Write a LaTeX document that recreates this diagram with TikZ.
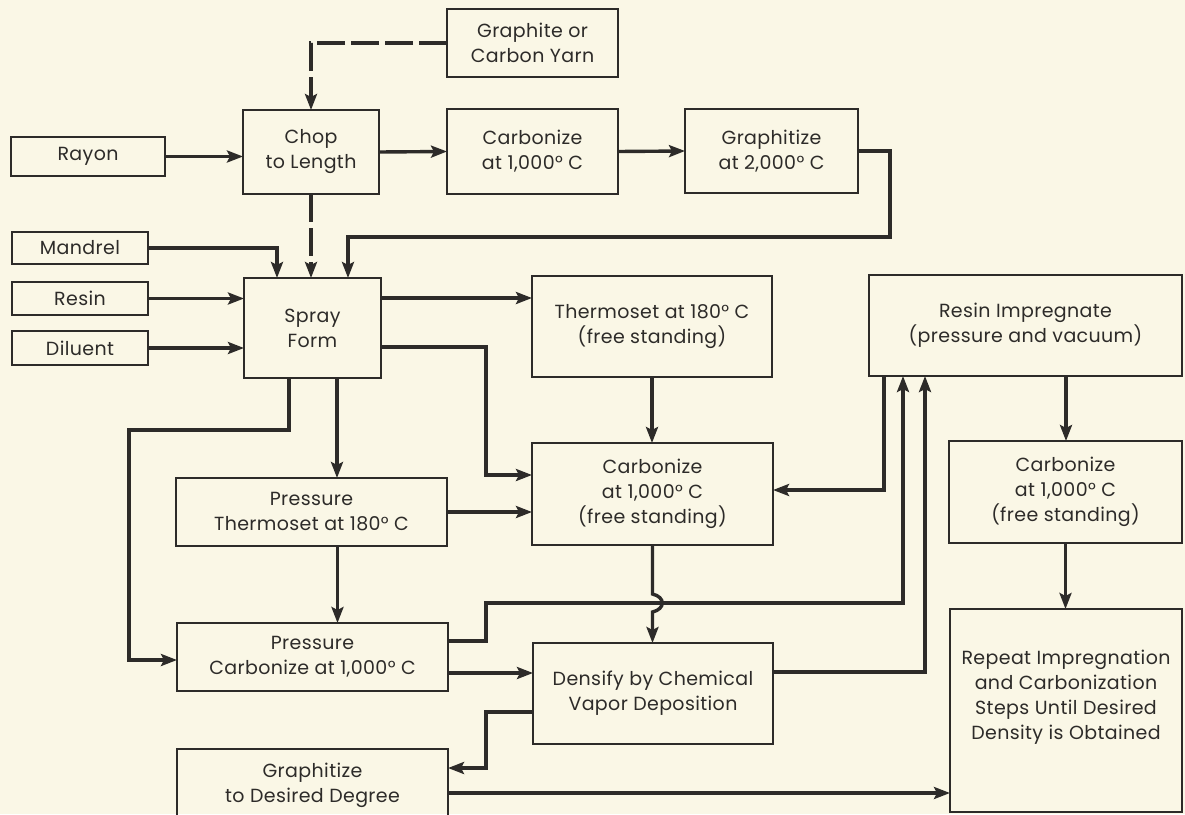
\documentclass[tikz,border=0pt]{standalone}
\usepackage{fontspec}
\setmainfont{Poppins}[LetterSpace=2]
\usetikzlibrary{arrows.meta}
\definecolor{paper}{RGB}{250,247,230}
\definecolor{ink}{RGB}{45,43,41}
\begin{document}
\begin{tikzpicture}[x=1pt,y=-1pt,
  box/.style={draw=ink, line width=1.3pt, inner sep=0pt, outer sep=0pt, align=center,
    text=ink, font=\fontsize{19}{25}\selectfont},
  conn/.style={draw=ink, line width=3.4pt, -{Stealth[length=16pt,width=12pt,inset=3pt]}},
  dashconn/.style={conn, dash pattern=on 28pt off 6pt},
]
\fill[paper] (0,0) rectangle (1185,814);
\useasboundingbox (0,0) rectangle (1185,814);

% nodes
\node[box, minimum width=171pt, minimum height=68pt] (yarn) at (532.5,43) {Graphite or\\Carbon Yarn};
\node[box, minimum width=154pt, minimum height=39pt] (rayon) at (88,156.5) {Rayon};
\node[box, minimum width=136pt, minimum height=84pt] (chop) at (311,152) {Chop\\to Length};
\node[box, minimum width=171pt, minimum height=85pt] (carbA) at (532.5,151.5) {Carbonize\\at 1,000° C};
\node[box, minimum width=173pt, minimum height=84pt] (graphA) at (771.5,151) {Graphitize\\at 2,000° C};
\node[box, minimum width=136pt, minimum height=32pt] (mandrel) at (80,248) {Mandrel};
\node[box, minimum width=136pt, minimum height=33pt] (resin) at (80,298.5) {Resin};
\node[box, minimum width=136pt, minimum height=34pt] (diluent) at (80,348) {Diluent};
\node[box, minimum width=137pt, minimum height=100pt] (spray) at (312.5,328) {Spray\\Form};
\node[box, minimum width=240pt, minimum height=101pt] (thermo) at (652,326.5) {Thermoset at 180° C\\(free standing)};
\node[box, minimum width=313pt, minimum height=101pt] (resimp) at (1025.5,325.5) {Resin Impregnate\\(pressure and vacuum)};
\node[box, minimum width=241pt, minimum height=102pt] (carbM) at (652.5,494) {Carbonize\\at 1,000° C\\(free standing)};
\node[box, minimum width=271pt, minimum height=68pt] (pthermo) at (311.5,512) {Pressure\\Thermoset at 180° C};
\node[box, minimum width=233pt, minimum height=102pt] (carbR) at (1065.5,492) {Carbonize\\at 1,000° C\\(free standing)};
\node[box, minimum width=271pt, minimum height=68pt] (pcarb) at (312.5,657) {Pressure\\Carbonize at 1,000° C};
\node[box, minimum width=240pt, minimum height=101pt] (densify) at (653,693.5) {Densify by Chemical\\Vapor Deposition};
\node[box, minimum width=271pt, minimum height=73pt] (graphD) at (312.5,785.5) {Graphitize\\to Desired Degree};
\node[box, minimum width=232pt, minimum height=203pt,
  label={[box, draw=none, yshift=13.5pt]center:{Repeat Impregnation\\and Carbonization\\Steps Until Desired\\Density is Obtained}}] (repeat) at (1066,710.5) {};

% helper coordinates
\coordinate (gr1) at (890,237);
\coordinate (gr2) at (348,237);
\coordinate (s1) at ([yshift=30pt]spray.east);
\coordinate (s2) at ([yshift=-19pt]spray.east);
\coordinate (c1) at (486,475);
\coordinate (s3) at ([xshift=24.5pt]spray.south);
\coordinate (s4) at ([xshift=-23.5pt]spray.south);
\coordinate (w1) at (129,430);
\coordinate (p1) at ([yshift=-3pt]pcarb.west);
\coordinate (s5) at ([xshift=26pt]pthermo.south);
\coordinate (r1) at ([xshift=15pt]resimp.south west);
\coordinate (r2) at ([yshift=4pt]carbM.east);
\coordinate (p2) at ([yshift=16pt]pcarb.east);
\coordinate (k1) at (486,603);
\coordinate (r3) at ([xshift=34pt]resimp.south west);
\coordinate (d1) at ([yshift=21.5pt]densify.east);
\coordinate (r4) at ([xshift=56pt]resimp.south west);
\coordinate (h1) at (652.5,594);
\coordinate (h2) at (652.5,612);
\coordinate (p3) at ([yshift=-16pt]pcarb.east);
\coordinate (d2) at ([yshift=-18.5pt]densify.west);
\coordinate (k2) at (486,768);
\coordinate (g3) at ([yshift=-7.5pt]graphD.east);
\coordinate (r5) at ([xshift=40.5pt]resimp.south);

% connectors
\draw[dashconn] (yarn.west) -| (chop.north);
\draw[conn] (rayon.east) -- (rayon.east -| chop.west);
\draw[conn] (chop.east) -- (carbA.west);
\draw[conn] (carbA.east) -- (graphA.west);
\draw[conn] (graphA.east) -| (gr1) -- (gr2) -- (gr2 |- spray.north);
\draw[dashconn] (chop.south) -- (chop.south |- spray.north);
\draw[conn] (mandrel.east) -| ([xshift=-35.5pt]spray.north);
\draw[conn] (resin.east) -- (resin.east -| spray.west);
\draw[conn] (diluent.east) -- (diluent.east -| spray.west);
\draw[conn] (s1) -- (s1 -| thermo.west);
\draw[conn] (s2) -| (c1) -- (c1 -| carbM.west);
\draw[conn] (s3) -- (s3 |- pthermo.north);
\draw[conn] (s4) |- (w1) |- (p1);
\draw[conn] (pthermo.east) -- (pthermo.east -| carbM.west);
\draw[conn] (s5) -- (s5 |- pcarb.north);
\draw[conn] (thermo.south) -- (thermo.south |- carbM.north);
\draw[conn] (r1) |- (r2);
\draw[conn] (p2) -| (k1) -| (r3);
\draw[conn] (d1) -| (r4);
\draw[conn] (carbM.south) -- (h1) .. controls +(13,3) and +(13,-3) .. (h2) -- (h2 |- densify.north);
\draw[conn] (p3) -- (p3 -| densify.west);
\draw[conn] (d2) -| (k2) -- (k2 -| graphD.east);
\draw[conn] (g3) -- (g3 -| repeat.west);
\draw[conn] (r5) -- (r5 |- carbR.north);
\draw[conn] (carbR.south) -- (carbR.south |- repeat.north);
\end{tikzpicture}
\end{document}
